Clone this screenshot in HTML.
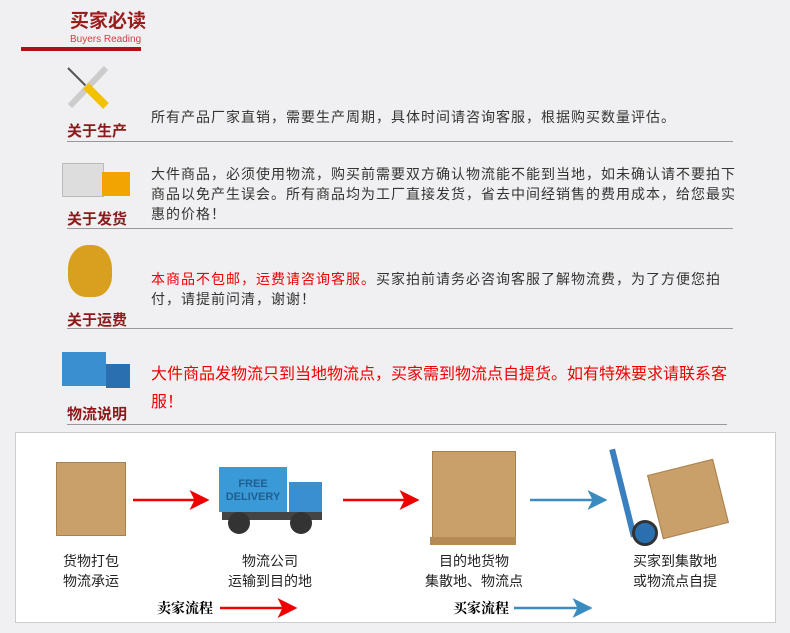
<!DOCTYPE html>
<html><head><meta charset="utf-8"><style>
body{margin:0;width:790px;height:633px;background:#f0f0f2;font-family:"Liberation Sans","Noto Sans CJK SC",sans-serif;position:relative;overflow:hidden}
.a{position:absolute}
.lab{position:absolute;left:67px;font-size:15px;font-weight:bold;color:#8b1a1a}
.txt{position:absolute;left:151px;font-size:14px;letter-spacing:1px;color:#333;line-height:20px;width:592px}
.hr{position:absolute;left:67px;width:666px;height:1px;background:#999}
.cap{position:absolute;font-size:14px;color:#222;text-align:center;line-height:20px;width:140px}
.box{background:#c9a06a;border:1px solid #a8804c}
</style></head><body>
<div class="a" style="left:70px;top:10px;font-size:19px;line-height:24px;font-weight:bold;color:#9b1c1c">买家必读</div>
<div class="a" style="left:70px;top:34px;font-size:10px;line-height:11px;color:#d04040">Buyers Reading</div>
<div class="a" style="left:21px;top:47px;width:120px;height:4px;background:#b01010"></div>

<svg class="a" style="left:62px;top:62px" width="52" height="50"><line x1="6" y1="6" x2="40" y2="40" stroke="#555" stroke-width="2"/><line x1="44" y1="6" x2="8" y2="44" stroke="#ccc" stroke-width="6"/><line x1="24" y1="24" x2="44" y2="44" stroke="#f2c200" stroke-width="8"/></svg>
<div class="lab" style="top:120px">关于生产</div>
<div class="txt" style="top:107px">所有产品厂家直销，需要生产周期，具体时间请咨询客服，根据购买数量评估。</div>
<div class="hr" style="top:141px"></div>

<div class="a" style="left:62px;top:163px;width:40px;height:32px;background:#ddd;border:1px solid #bbb"></div>
<div class="a" style="left:102px;top:172px;width:28px;height:24px;background:#f2a500"></div>
<div class="lab" style="top:208px">关于发货</div>
<div class="txt" style="top:164px">大件商品，必须使用物流，购买前需要双方确认物流能不能到当地，如未确认请不要拍下商品以免产生误会。所有商品均为工厂直接发货，省去中间经销售的费用成本，给您最实惠的价格！</div>
<div class="hr" style="top:228px"></div>

<div class="a" style="left:68px;top:245px;width:44px;height:52px;border-radius:45% 45% 40% 40%;background:#d9a020"></div>
<div class="lab" style="top:309px">关于运费</div>
<div class="txt" style="top:269px"><span style="color:#e00">本商品不包邮，运费请咨询客服。</span>买家拍前请务必咨询客服了解物流费，为了方便您拍付，请提前问清，谢谢！</div>
<div class="hr" style="top:328px"></div>

<div class="a" style="left:62px;top:352px;width:44px;height:34px;background:#3a8fd0"></div>
<div class="a" style="left:106px;top:364px;width:24px;height:24px;background:#2a6fb0"></div>
<div class="lab" style="top:403px">物流说明</div>
<div class="txt" style="top:361px;color:#e00;font-size:16px;letter-spacing:0;line-height:28px;width:585px">大件商品发物流只到当地物流点，买家需到物流点自提货。如有特殊要求请联系客服！</div>
<div class="hr" style="top:424px;width:660px"></div>

<div class="a" style="left:15px;top:432px;width:759px;height:189px;background:#fff;border:1px solid #ccc"></div>
<div class="a box" style="left:56px;top:462px;width:68px;height:72px"></div>
<div class="a" style="left:219px;top:467px;width:68px;height:45px;background:#3a9ad8"></div>
<div class="a" style="left:219px;top:478px;font-size:11px;color:#1e5f8f;font-weight:bold;line-height:13px;text-align:center;width:68px">FREE<br>DELIVERY</div>
<div class="a" style="left:289px;top:482px;width:33px;height:32px;background:#3a8fd0"></div>
<div class="a" style="left:222px;top:512px;width:100px;height:8px;background:#444"></div>
<div class="a" style="left:228px;top:512px;width:22px;height:22px;border-radius:50%;background:#333"></div>
<div class="a" style="left:290px;top:512px;width:22px;height:22px;border-radius:50%;background:#333"></div>
<div class="a box" style="left:432px;top:451px;width:82px;height:92px"></div>
<div class="a" style="left:430px;top:537px;width:86px;height:8px;background:#b58a55"></div>
<div class="a" style="left:620px;top:448px;width:6px;height:90px;background:#3a7fc0;transform:rotate(-14deg)"></div>
<div class="a box" style="left:654px;top:466px;width:66px;height:64px;transform:rotate(-14deg)"></div>
<div class="a" style="left:632px;top:520px;width:26px;height:26px;border-radius:50%;background:#2a6fb0;border:3px solid #333;box-sizing:border-box"></div>

<svg class="a" style="left:0;top:0" width="790" height="633">
<defs><marker id="r" markerWidth="8" markerHeight="8" refX="7" refY="4" orient="auto"><path d="M0,0L8,4L0,8L2,4z" fill="#e00"/></marker>
<marker id="b" markerWidth="8" markerHeight="8" refX="7" refY="4" orient="auto"><path d="M0,0L8,4L0,8L2,4z" fill="#3a8cc0"/></marker></defs>
<line x1="133" y1="500" x2="207" y2="500" stroke="#e00" stroke-width="2.5" marker-end="url(#r)"/>
<line x1="343" y1="500" x2="417" y2="500" stroke="#e00" stroke-width="2.5" marker-end="url(#r)"/>
<line x1="530" y1="500" x2="605" y2="500" stroke="#3a8cc0" stroke-width="2.5" marker-end="url(#b)"/>
<line x1="220" y1="608" x2="295" y2="608" stroke="#e00" stroke-width="2.5" marker-end="url(#r)"/>
<line x1="514" y1="608" x2="590" y2="608" stroke="#3a8cc0" stroke-width="2.5" marker-end="url(#b)"/>
</svg>
<div class="cap" style="left:21px;top:551px">货物打包<br>物流承运</div>
<div class="cap" style="left:200px;top:551px">物流公司<br>运输到目的地</div>
<div class="cap" style="left:404px;top:551px">目的地货物<br>集散地、物流点</div>
<div class="cap" style="left:605px;top:551px">买家到集散地<br>或物流点自提</div>
<div class="a" style="left:157px;top:598px;font-size:14px;font-weight:bold;font-family:'Noto Serif CJK SC',serif">卖家流程</div>
<div class="a" style="left:453px;top:598px;font-size:14px;font-weight:bold;font-family:'Noto Serif CJK SC',serif">买家流程</div>
</body></html>
